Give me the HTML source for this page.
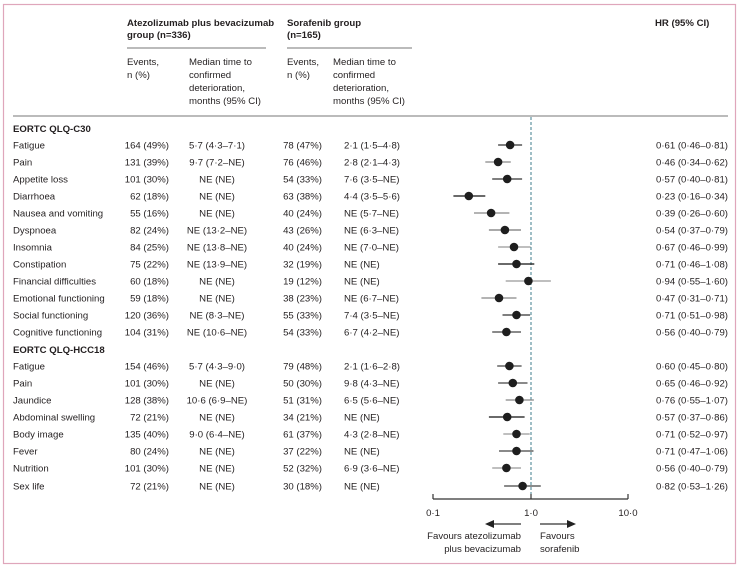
<!DOCTYPE html>
<html><head><meta charset="utf-8"><style>
html,body{margin:0;padding:0;background:#fff;}
svg{display:block;}
text{font-family:"Liberation Sans",sans-serif;font-size:9.6px;fill:#231f20;}
.b{font-weight:bold;}
</style></head><body>
<svg width="742" height="570" viewBox="0 0 742 570" xmlns="http://www.w3.org/2000/svg">
<rect x="3.5" y="4.5" width="732" height="559" fill="none" stroke="#dfa6bb" stroke-width="1.2"/>
<!-- headers -->
<text class="b" x="127" y="26">Atezolizumab plus bevacizumab</text>
<text class="b" x="127" y="38">group (n=336)</text>
<text class="b" x="287" y="26">Sorafenib group</text>
<text class="b" x="287" y="38">(n=165)</text>
<text class="b" x="655" y="26">HR (95% CI)</text>
<line x1="127" y1="48" x2="266" y2="48" stroke="#777" stroke-width="1"/>
<line x1="287" y1="48" x2="412" y2="48" stroke="#777" stroke-width="1"/>
<g>
<text x="127" y="65">Events,</text><text x="127" y="78">n (%)</text>
<text x="189" y="65">Median time to</text><text x="189" y="78">confirmed</text><text x="189" y="91">deterioration,</text><text x="189" y="104">months (95% CI)</text>
<text x="287" y="65">Events,</text><text x="287" y="78">n (%)</text>
<text x="333" y="65">Median time to</text><text x="333" y="78">confirmed</text><text x="333" y="91">deterioration,</text><text x="333" y="104">months (95% CI)</text>
</g>
<line x1="13" y1="116" x2="728" y2="116" stroke="#777" stroke-width="1"/>
<text class="b" x="13" y="132">EORTC QLQ-C30</text>
<text class="b" x="13" y="353">EORTC QLQ-HCC18</text>

<!-- dashed ref line -->
<line x1="531" y1="117" x2="531" y2="498" stroke="#3f7d8c" stroke-width="1" stroke-dasharray="3,2"/>

<!-- rows -->
<g id="rows">
<text x="13" y="148.5">Fatigue</text><text x="169" y="148.5" text-anchor="end">164 (49%)</text><text x="217" y="148.5" text-anchor="middle">5·7 (4·3–7·1)</text><text x="322" y="148.5" text-anchor="end">78 (47%)</text><text x="344" y="148.5">2·1 (1·5–4·8)</text><text x="656" y="148.5">0·61 (0·46–0·81)</text>
<text x="13" y="165.5">Pain</text><text x="169" y="165.5" text-anchor="end">131 (39%)</text><text x="217" y="165.5" text-anchor="middle">9·7 (7·2–NE)</text><text x="322" y="165.5" text-anchor="end">76 (46%)</text><text x="344" y="165.5">2·8 (2·1–4·3)</text><text x="656" y="165.5">0·46 (0·34–0·62)</text>
<text x="13" y="182.5">Appetite loss</text><text x="169" y="182.5" text-anchor="end">101 (30%)</text><text x="217" y="182.5" text-anchor="middle">NE (NE)</text><text x="322" y="182.5" text-anchor="end">54 (33%)</text><text x="344" y="182.5">7·6 (3·5–NE)</text><text x="656" y="182.5">0·57 (0·40–0·81)</text>
<text x="13" y="199.5">Diarrhoea</text><text x="169" y="199.5" text-anchor="end">62 (18%)</text><text x="217" y="199.5" text-anchor="middle">NE (NE)</text><text x="322" y="199.5" text-anchor="end">63 (38%)</text><text x="344" y="199.5">4·4 (3·5–5·6)</text><text x="656" y="199.5">0·23 (0·16–0·34)</text>
<text x="13" y="216.5">Nausea and vomiting</text><text x="169" y="216.5" text-anchor="end">55 (16%)</text><text x="217" y="216.5" text-anchor="middle">NE (NE)</text><text x="322" y="216.5" text-anchor="end">40 (24%)</text><text x="344" y="216.5">NE (5·7–NE)</text><text x="656" y="216.5">0·39 (0·26–0·60)</text>
<text x="13" y="233.5">Dyspnoea</text><text x="169" y="233.5" text-anchor="end">82 (24%)</text><text x="217" y="233.5" text-anchor="middle">NE (13·2–NE)</text><text x="322" y="233.5" text-anchor="end">43 (26%)</text><text x="344" y="233.5">NE (6·3–NE)</text><text x="656" y="233.5">0·54 (0·37–0·79)</text>
<text x="13" y="250.5">Insomnia</text><text x="169" y="250.5" text-anchor="end">84 (25%)</text><text x="217" y="250.5" text-anchor="middle">NE (13·8–NE)</text><text x="322" y="250.5" text-anchor="end">40 (24%)</text><text x="344" y="250.5">NE (7·0–NE)</text><text x="656" y="250.5">0·67 (0·46–0·99)</text>
<text x="13" y="267.5">Constipation</text><text x="169" y="267.5" text-anchor="end">75 (22%)</text><text x="217" y="267.5" text-anchor="middle">NE (13·9–NE)</text><text x="322" y="267.5" text-anchor="end">32 (19%)</text><text x="344" y="267.5">NE (NE)</text><text x="656" y="267.5">0·71 (0·46–1·08)</text>
<text x="13" y="284.5">Financial difficulties</text><text x="169" y="284.5" text-anchor="end">60 (18%)</text><text x="217" y="284.5" text-anchor="middle">NE (NE)</text><text x="322" y="284.5" text-anchor="end">19 (12%)</text><text x="344" y="284.5">NE (NE)</text><text x="656" y="284.5">0·94 (0·55–1·60)</text>
<text x="13" y="301.5">Emotional functioning</text><text x="169" y="301.5" text-anchor="end">59 (18%)</text><text x="217" y="301.5" text-anchor="middle">NE (NE)</text><text x="322" y="301.5" text-anchor="end">38 (23%)</text><text x="344" y="301.5">NE (6·7–NE)</text><text x="656" y="301.5">0·47 (0·31–0·71)</text>
<text x="13" y="318.5">Social functioning</text><text x="169" y="318.5" text-anchor="end">120 (36%)</text><text x="217" y="318.5" text-anchor="middle">NE (8·3–NE)</text><text x="322" y="318.5" text-anchor="end">55 (33%)</text><text x="344" y="318.5">7·4 (3·5–NE)</text><text x="656" y="318.5">0·71 (0·51–0·98)</text>
<text x="13" y="335.5">Cognitive functioning</text><text x="169" y="335.5" text-anchor="end">104 (31%)</text><text x="217" y="335.5" text-anchor="middle">NE (10·6–NE)</text><text x="322" y="335.5" text-anchor="end">54 (33%)</text><text x="344" y="335.5">6·7 (4·2–NE)</text><text x="656" y="335.5">0·56 (0·40–0·79)</text>

<text x="13" y="369.5">Fatigue</text><text x="169" y="369.5" text-anchor="end">154 (46%)</text><text x="217" y="369.5" text-anchor="middle">5·7 (4·3–9·0)</text><text x="322" y="369.5" text-anchor="end">79 (48%)</text><text x="344" y="369.5">2·1 (1·6–2·8)</text><text x="656" y="369.5">0·60 (0·45–0·80)</text>
<text x="13" y="386.5">Pain</text><text x="169" y="386.5" text-anchor="end">101 (30%)</text><text x="217" y="386.5" text-anchor="middle">NE (NE)</text><text x="322" y="386.5" text-anchor="end">50 (30%)</text><text x="344" y="386.5">9·8 (4·3–NE)</text><text x="656" y="386.5">0·65 (0·46–0·92)</text>
<text x="13" y="403.5">Jaundice</text><text x="169" y="403.5" text-anchor="end">128 (38%)</text><text x="217" y="403.5" text-anchor="middle">10·6 (6·9–NE)</text><text x="322" y="403.5" text-anchor="end">51 (31%)</text><text x="344" y="403.5">6·5 (5·6–NE)</text><text x="656" y="403.5">0·76 (0·55–1·07)</text>
<text x="13" y="420.5">Abdominal swelling</text><text x="169" y="420.5" text-anchor="end">72 (21%)</text><text x="217" y="420.5" text-anchor="middle">NE (NE)</text><text x="322" y="420.5" text-anchor="end">34 (21%)</text><text x="344" y="420.5">NE (NE)</text><text x="656" y="420.5">0·57 (0·37–0·86)</text>
<text x="13" y="437.5">Body image</text><text x="169" y="437.5" text-anchor="end">135 (40%)</text><text x="217" y="437.5" text-anchor="middle">9·0 (6·4–NE)</text><text x="322" y="437.5" text-anchor="end">61 (37%)</text><text x="344" y="437.5">4·3 (2·8–NE)</text><text x="656" y="437.5">0·71 (0·52–0·97)</text>
<text x="13" y="454.5">Fever</text><text x="169" y="454.5" text-anchor="end">80 (24%)</text><text x="217" y="454.5" text-anchor="middle">NE (NE)</text><text x="322" y="454.5" text-anchor="end">37 (22%)</text><text x="344" y="454.5">NE (NE)</text><text x="656" y="454.5">0·71 (0·47–1·06)</text>
<text x="13" y="471.5">Nutrition</text><text x="169" y="471.5" text-anchor="end">101 (30%)</text><text x="217" y="471.5" text-anchor="middle">NE (NE)</text><text x="322" y="471.5" text-anchor="end">52 (32%)</text><text x="344" y="471.5">6·9 (3·6–NE)</text><text x="656" y="471.5">0·56 (0·40–0·79)</text>
<text x="13" y="489.5">Sex life</text><text x="169" y="489.5" text-anchor="end">72 (21%)</text><text x="217" y="489.5" text-anchor="middle">NE (NE)</text><text x="322" y="489.5" text-anchor="end">30 (18%)</text><text x="344" y="489.5">NE (NE)</text><text x="656" y="489.5">0·82 (0·53–1·26)</text>
</g>

<!-- CIs -->
<g stroke-width="1.3">
<line x1="498.1" y1="145" x2="522.1" y2="145" stroke="#333"/>
<line x1="485.3" y1="162" x2="510.8" y2="162" stroke="#888"/>
<line x1="492.2" y1="179" x2="522.1" y2="179" stroke="#333"/>
<line x1="453.4" y1="196" x2="485.3" y2="196" stroke="#111"/>
<line x1="474.0" y1="213" x2="509.4" y2="213" stroke="#888"/>
<line x1="488.9" y1="230" x2="521.0" y2="230" stroke="#777"/>
<line x1="498.1" y1="247" x2="530.6" y2="247" stroke="#999"/>
<line x1="498.1" y1="264" x2="534.3" y2="264" stroke="#111"/>
<line x1="505.7" y1="281" x2="550.9" y2="281" stroke="#999"/>
<line x1="481.4" y1="298" x2="516.5" y2="298" stroke="#888"/>
<line x1="502.5" y1="315" x2="530.1" y2="315" stroke="#333"/>
<line x1="492.2" y1="332" x2="521.0" y2="332" stroke="#444"/>
<line x1="497.2" y1="366" x2="521.6" y2="366" stroke="#444"/>
<line x1="498.1" y1="383" x2="527.5" y2="383" stroke="#444"/>
<line x1="505.7" y1="400" x2="533.9" y2="400" stroke="#888"/>
<line x1="488.9" y1="417" x2="524.6" y2="417" stroke="#111"/>
<line x1="503.3" y1="434" x2="529.7" y2="434" stroke="#999"/>
<line x1="499.0" y1="451" x2="533.5" y2="451" stroke="#444"/>
<line x1="492.2" y1="468" x2="521.0" y2="468" stroke="#999"/>
<line x1="504.1" y1="486" x2="540.8" y2="486" stroke="#444"/>
</g>
<g fill="#1e1e1e">
<circle cx="510.1" cy="145" r="4.3"/><circle cx="498.1" cy="162" r="4.3"/><circle cx="507.2" cy="179" r="4.3"/>
<circle cx="468.8" cy="196" r="4.3"/><circle cx="491.1" cy="213" r="4.3"/><circle cx="504.9" cy="230" r="4.3"/>
<circle cx="514.0" cy="247" r="4.3"/><circle cx="516.5" cy="264" r="4.3"/><circle cx="528.4" cy="281" r="4.3"/>
<circle cx="499.0" cy="298" r="4.3"/><circle cx="516.5" cy="315" r="4.3"/><circle cx="506.4" cy="332" r="4.3"/>
<circle cx="509.4" cy="366" r="4.3"/><circle cx="512.8" cy="383" r="4.3"/><circle cx="519.4" cy="400" r="4.3"/>
<circle cx="507.2" cy="417" r="4.3"/><circle cx="516.5" cy="434" r="4.3"/><circle cx="516.5" cy="451" r="4.3"/>
<circle cx="506.4" cy="468" r="4.3"/><circle cx="522.6" cy="486" r="4.3"/>
</g>

<!-- axis -->
<g stroke="#333" stroke-width="1.2">
<line x1="433" y1="499" x2="628" y2="499"/>
<line x1="433" y1="494" x2="433" y2="499"/>
<line x1="531" y1="494" x2="531" y2="499"/>
<line x1="628" y1="494" x2="628" y2="499"/>
</g>
<text x="433" y="516" text-anchor="middle">0·1</text>
<text x="531" y="516" text-anchor="middle">1·0</text>
<text x="628" y="516" text-anchor="middle">10·0</text>
<g stroke="#333" stroke-width="1.2">
<line x1="493" y1="524" x2="521" y2="524"/>
<line x1="540" y1="524" x2="568" y2="524"/>
</g>
<polygon points="485,524 494,520 494,528" fill="#222"/>
<polygon points="576,524 567,520 567,528" fill="#222"/>
<text x="521" y="539" text-anchor="end">Favours atezolizumab</text>
<text x="521" y="552" text-anchor="end">plus bevacizumab</text>
<text x="540" y="539">Favours</text>
<text x="540" y="552">sorafenib</text>
</svg>
</body></html>
